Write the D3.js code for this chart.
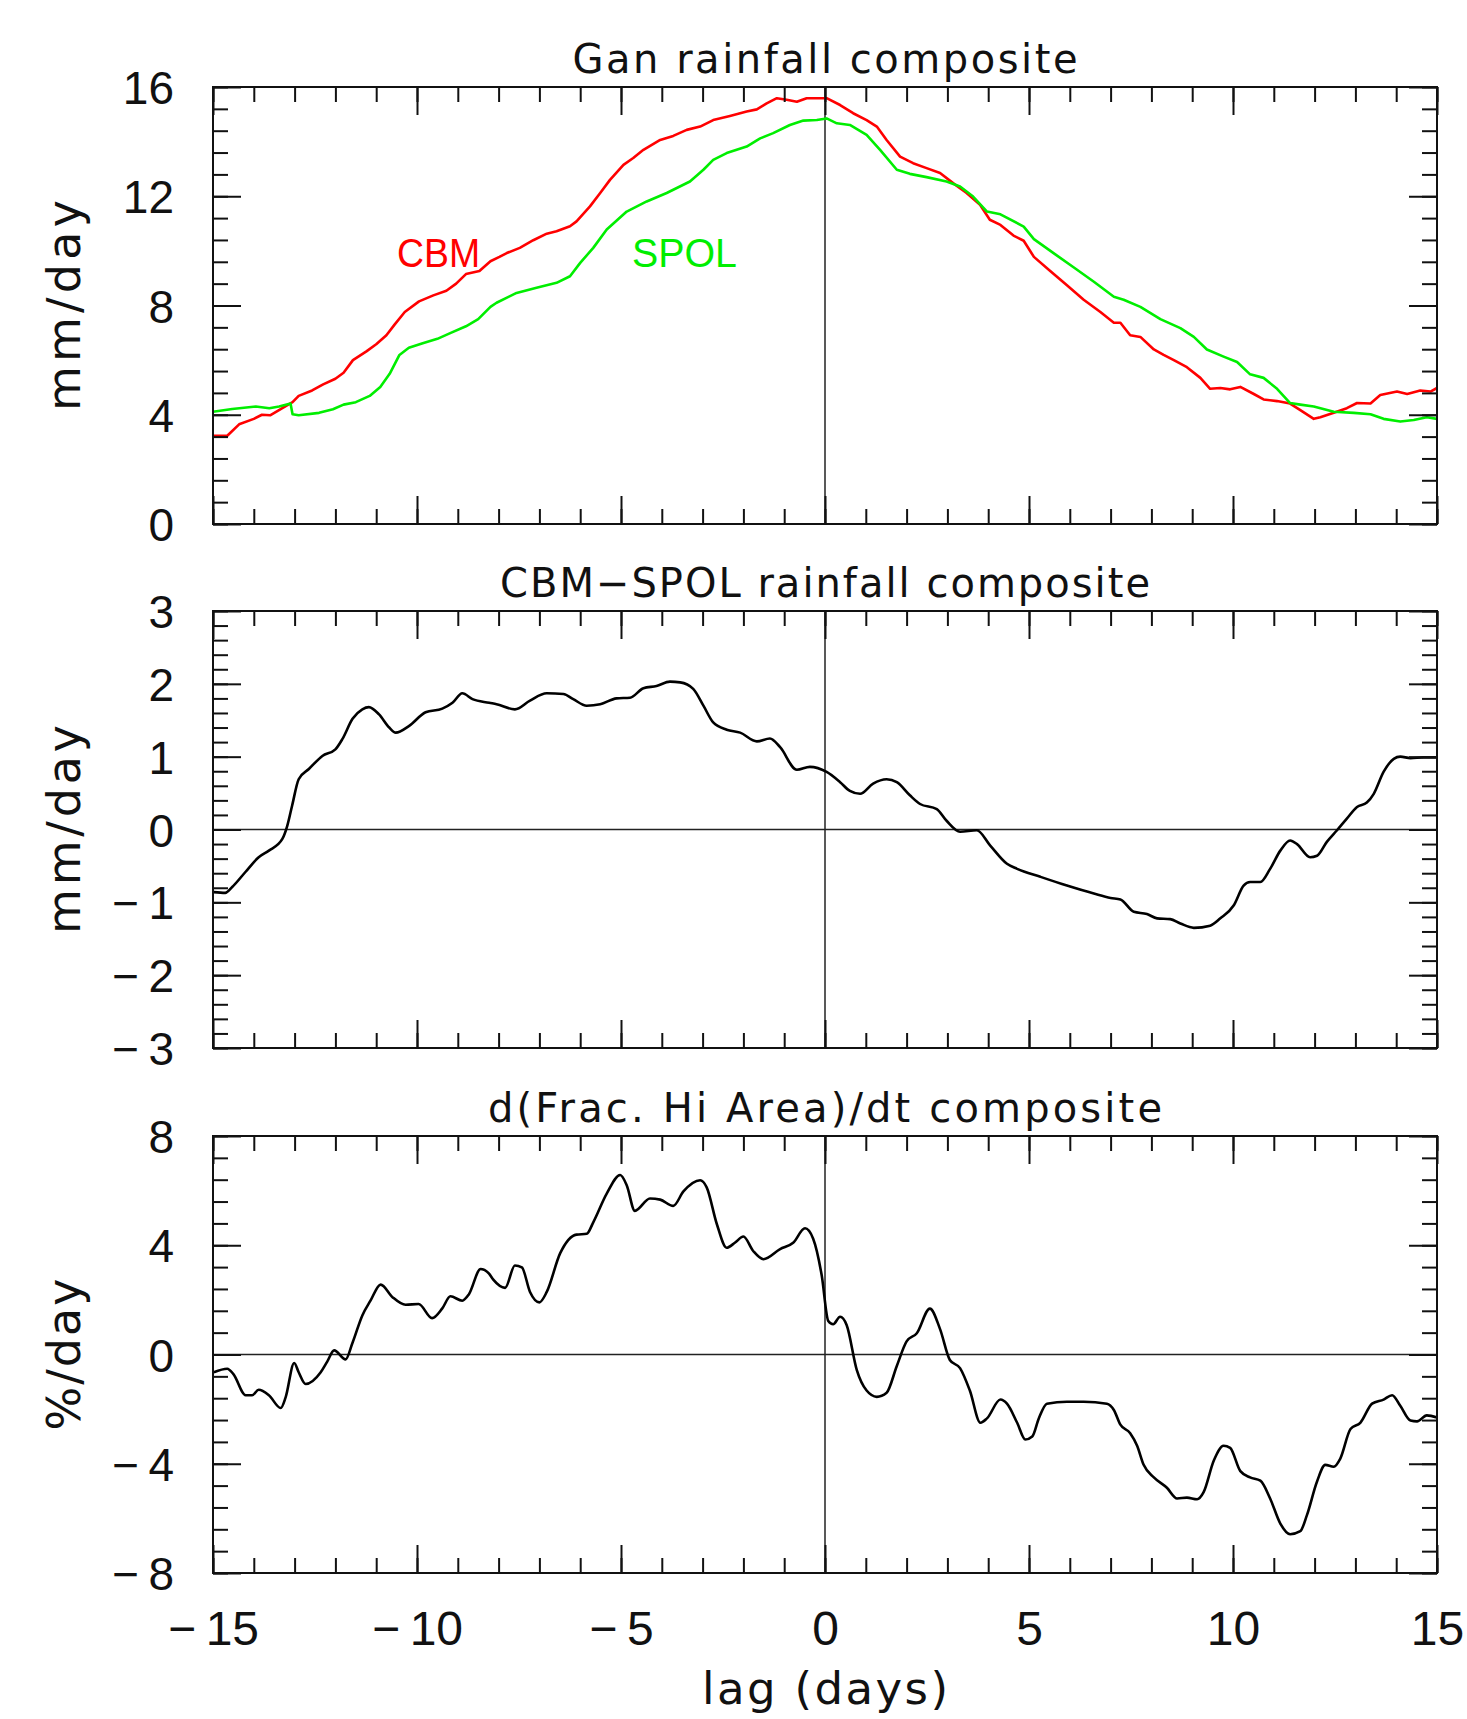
<!doctype html>
<html lang="en">
<head>
  <meta charset="utf-8">
  <title>Gan rainfall composite</title>
<style>
body { margin: 0; background: #fff; }
svg { display: block; }
</style>
</head>
<body>
<script src="https://cdn.jsdelivr.net/npm/d3@7"></script>
<script>

// lag tick labels (days)
var lagTicks = [-15, -10, -5, 0, 5, 10, 15];

// [lag (days), mm/day]
var cbm = [[-15,3.23],[-14.65,3.23],[-14.36,3.65],[-14,3.85],[-13.8,4.0],[-13.6,3.98],[-13.3,4.24],[-13.05,4.46],
  [-12.9,4.69],[-12.57,4.89],[-12.3,5.11],[-12,5.32],[-11.8,5.54],[-11.57,6.0],[-11.24,6.32],[-11,6.58],
  [-10.75,6.91],[-10.55,7.3],[-10.3,7.76],[-9.95,8.15],[-9.6,8.37],[-9.28,8.54],[-9.04,8.8],[-8.8,9.15],
  [-8.47,9.26],[-8.2,9.62],[-7.98,9.78],[-7.8,9.92],[-7.48,10.11],[-7.15,10.39],[-6.82,10.63],[-6.58,10.72],
  [-6.25,10.9],[-6.09,11.08],[-5.76,11.63],[-5.51,12.12],[-5.27,12.6],[-4.94,13.15],[-4.7,13.4],[-4.45,13.7],
  [-4.04,14.06],[-3.72,14.21],[-3.39,14.43],[-3.06,14.55],[-2.74,14.79],[-2.33,14.94],[-1.92,15.1],[-1.67,15.18],
  [-1.43,15.4],[-1.18,15.59],[-0.94,15.53],[-0.69,15.46],[-0.45,15.59],[-0.2,15.59],[0.04,15.59],[0.37,15.34],
  [0.69,15.04],[1.02,14.79],[1.27,14.55],[1.51,14.06],[1.84,13.45],[2.16,13.21],[2.49,13.03],[2.82,12.85],
  [3.14,12.48],[3.47,12.12],[3.8,11.69],[4.04,11.14],[4.3,10.95],[4.62,10.56],[4.87,10.37],[5.12,9.78],
  [5.52,9.26],[5.93,8.74],[6.34,8.21],[6.75,7.76],[7.08,7.37],[7.24,7.37],[7.48,6.91],[7.73,6.85],
  [8.06,6.39],[8.3,6.19],[8.55,6.0],[8.87,5.74],[9.2,5.35],[9.44,4.95],[9.69,4.98],[9.93,4.93],
  [10.18,5.02],[10.51,4.76],[10.75,4.56],[11.08,4.5],[11.4,4.41],[11.65,4.17],[11.98,3.85],[12.14,3.91],
  [12.47,4.07],[12.79,4.24],[13.04,4.43],[13.37,4.41],[13.61,4.72],[14.02,4.85],[14.27,4.76],[14.59,4.89],
  [14.84,4.85],[15,4.98]];

var spol = [[-15,4.11],[-14.53,4.21],[-13.95,4.3],[-13.62,4.24],[-13.38,4.3],[-13.1,4.41],[-13.05,4.02],[-12.9,3.98],
  [-12.4,4.07],[-12.06,4.2],[-11.8,4.37],[-11.5,4.46],[-11.16,4.69],[-10.9,5.02],[-10.67,5.5],[-10.43,6.19],
  [-10.2,6.45],[-9.86,6.62],[-9.5,6.78],[-9.2,6.98],[-8.8,7.24],[-8.5,7.5],[-8.2,7.95],[-8.05,8.1],
  [-7.56,8.46],[-7.07,8.65],[-6.58,8.83],[-6.25,9.07],[-6,9.56],[-5.68,10.11],[-5.35,10.78],[-4.86,11.44],
  [-4.37,11.81],[-3.88,12.12],[-3.31,12.54],[-2.98,12.97],[-2.74,13.33],[-2.41,13.58],[-1.92,13.82],[-1.59,14.12],
  [-1.27,14.31],[-0.86,14.61],[-0.53,14.77],[-0.2,14.79],[0.04,14.85],[0.29,14.67],[0.61,14.61],[1.02,14.25],
  [1.35,13.7],[1.76,12.97],[2.08,12.82],[2.49,12.7],[2.98,12.54],[3.31,12.36],[3.63,11.99],[3.97,11.44],
  [4.3,11.34],[4.87,10.89],[5.12,10.43],[5.61,9.91],[6.1,9.39],[6.59,8.87],[7.08,8.32],[7.32,8.21],
  [7.73,7.95],[8.22,7.5],[8.71,7.17],[9.04,6.85],[9.36,6.39],[9.77,6.13],[10.1,5.93],[10.42,5.48],
  [10.75,5.35],[11.08,4.95],[11.4,4.43],[11.65,4.37],[11.98,4.3],[12.47,4.11],[12.96,4.07],[13.37,4.02],
  [13.69,3.85],[14.1,3.75],[14.43,3.81],[14.75,3.91],[15,3.85]];

// [lag, mm/day] CBM minus SPOL
var diff = [[-14.98,-0.86],[-14.7,-0.87],[-14.53,-0.79],[-14.2,-0.58],[-13.88,-0.38],[-13.63,-0.29],[-13.3,-0.13],
  [-13.18,0.05],[-13.06,0.33],[-12.9,0.69],[-12.65,0.83],[-12.32,1.01],[-12,1.1],[-11.83,1.24],[-11.58,1.52],
  [-11.34,1.65],[-11.18,1.68],[-10.93,1.58],[-10.68,1.4],[-10.52,1.33],[-10.2,1.42],[-9.79,1.61],[-9.38,1.66],
  [-9.13,1.74],[-8.89,1.87],[-8.64,1.79],[-8.23,1.74],[-8.05,1.72],[-7.6,1.65],[-7.23,1.77],[-6.82,1.87],
  [-6.41,1.86],[-6.17,1.79],[-5.84,1.7],[-5.51,1.72],[-5.11,1.8],[-4.78,1.81],[-4.45,1.94],[-4.13,1.97],
  [-3.8,2.03],[-3.55,2.02],[-3.23,1.93],[-2.98,1.7],[-2.74,1.47],[-2.41,1.37],[-2.08,1.33],[-1.67,1.21],
  [-1.35,1.25],[-1.1,1.13],[-0.69,0.82],[-0.37,0.86],[0.04,0.79],[0.37,0.65],[0.61,0.53],[0.86,0.49],
  [1.18,0.63],[1.51,0.69],[1.76,0.65],[2.08,0.47],[2.33,0.35],[2.74,0.28],[2.98,0.12],[3.31,-0.03],
  [3.72,-0.01],[4.05,-0.22],[4.46,-0.47],[4.71,-0.54],[5.28,-0.65],[5.93,-0.77],[6.59,-0.88],[7,-0.94],
  [7.24,-0.96],[7.57,-1.13],[7.89,-1.16],[8.14,-1.22],[8.46,-1.23],[8.71,-1.29],[9.04,-1.35],[9.44,-1.32],
  [9.69,-1.22],[10.02,-1.04],[10.26,-0.77],[10.42,-0.72],[10.67,-0.72],[10.91,-0.54],[11.16,-0.29],[11.4,-0.15],
  [11.57,-0.2],[11.89,-0.38],[12.06,-0.36],[12.3,-0.17],[12.55,-0.01],[12.79,0.15],[13.04,0.31],[13.28,0.37],
  [13.45,0.49],[13.69,0.79],[13.94,0.97],[14.1,1.0],[14.35,0.98],[14.67,0.99],[15,0.99]];

// [lag, %/day] d(Frac. Hi Area)/dt
var dfrac = [[-14.98,-0.65],[-14.65,-0.52],[-14.5,-0.72],[-14.2,-1.49],[-14.04,-1.49],[-13.88,-1.29],[-13.63,-1.49],
  [-13.34,-1.96],[-13.22,-1.57],[-13.01,-0.31],[-12.9,-0.65],[-12.73,-1.08],[-12.36,-0.65],[-12.2,-0.26],[-12.03,0.15],
  [-11.75,-0.18],[-11.58,0.43],[-11.34,1.43],[-11.14,1.97],[-10.89,2.56],[-10.6,2.1],[-10.28,1.82],[-9.96,1.85],
  [-9.63,1.33],[-9.38,1.69],[-9.18,2.13],[-8.89,1.97],[-8.73,2.2],[-8.44,3.13],[-8.24,2.97],[-8.13,2.74],
  [-7.84,2.44],[-7.6,3.26],[-7.43,3.19],[-7.23,2.29],[-7,1.91],[-6.82,2.29],[-6.49,3.71],[-6.09,4.39],
  [-5.84,4.42],[-5.68,4.84],[-5.35,5.89],[-5.02,6.57],[-4.86,6.2],[-4.66,5.26],[-4.29,5.71],[-4.04,5.67],
  [-3.72,5.44],[-3.47,5.97],[-3.06,6.38],[-2.9,6.12],[-2.65,4.77],[-2.41,3.91],[-2.21,4.09],[-2,4.32],
  [-1.76,3.79],[-1.51,3.49],[-1.1,3.86],[-0.78,4.09],[-0.49,4.62],[-0.29,4.24],[-0.08,2.89],[0.08,1.23],
  [0.2,1.11],[0.37,1.38],[0.53,1.08],[0.78,-0.57],[1.02,-1.32],[1.27,-1.55],[1.51,-1.4],[1.76,-0.42],
  [2,0.48],[2.25,0.78],[2.57,1.68],[2.82,0.93],[3.06,-0.2],[3.31,-0.5],[3.55,-1.32],[3.81,-2.5],
  [3.97,-2.34],[4.3,-1.65],[4.46,-1.8],[4.71,-2.5],[4.91,-3.11],[5.08,-3.0],[5.24,-2.34],[5.44,-1.8],
  [5.93,-1.73],[6.34,-1.73],[6.91,-1.8],[7.08,-2.03],[7.24,-2.57],[7.48,-2.88],[7.65,-3.34],[7.81,-4.04],
  [8.06,-4.5],[8.38,-4.88],[8.63,-5.27],[8.87,-5.24],[9.12,-5.3],[9.28,-5.04],[9.53,-3.88],[9.77,-3.34],
  [9.93,-3.42],[10.18,-4.27],[10.42,-4.5],[10.67,-4.62],[10.91,-5.27],[11.16,-6.19],[11.4,-6.58],[11.65,-6.47],
  [11.81,-5.89],[12.06,-4.65],[12.26,-4.04],[12.47,-4.11],[12.63,-3.81],[12.88,-2.73],[13.12,-2.5],[13.41,-1.8],
  [13.69,-1.65],[13.9,-1.49],[14.1,-1.88],[14.35,-2.42],[14.51,-2.45],[14.75,-2.23],[15,-2.31]];

var W = 1467, H = 1719;
var svg = d3.select("body").append("svg")
	.attr("width", W)
	.attr("height", H);

var left = 213, right = 1437, ph = 437;
var numFont = "'Liberation Sans', Arial, sans-serif";
var txtFont = "'DejaVu Sans', sans-serif";

var x = d3.scaleLinear().domain([-15, 15]).range([left, right]);

// minus sign set a little apart from the digits, as in the original plot
function fmt(d) {
	return d < 0 ? "\u2212\u2009" + (-d) : String(d);
}

var panels = [
	{ top: 87, domain: [0, 16], major: [0, 4, 8, 12, 16], step: 0.8, zero: false,
	  title: "Gan rainfall composite", titleLen: 505, ylab: "mm/day", ylabLen: 211,
	  series: [{ data: cbm, color: "#ff0000", curve: d3.curveLinear },
	           { data: spol, color: "#00ee00", curve: d3.curveLinear }] },
	{ top: 611, domain: [-3, 3], major: [-3, -2, -1, 0, 1, 2, 3], step: 0.2, zero: true,
	  title: "CBM\u2212SPOL rainfall composite", titleLen: 650, ylab: "mm/day", ylabLen: 209,
	  series: [{ data: diff, color: "#000", curve: d3.curveMonotoneX }] },
	{ top: 1136, domain: [-8, 8], major: [-8, -4, 0, 4, 8], step: 0.8, zero: true,
	  title: "d(Frac. Hi Area)/dt composite", titleLen: 674, ylab: "%/day", ylabLen: 152,
	  series: [{ data: dfrac, color: "#000", curve: d3.curveMonotoneX }] }
];

var xMinor = d3.range(-15, 15.01, 1);

// draw inward tick marks only (no labels, no domain path)
function tickMarks(g, axis, tr) {
	g.append("g")
		.attr("transform", tr)
		.call(axis)
		.call(function (s) {
			s.select(".domain").remove();
			s.selectAll("text").remove();
			s.selectAll("line").attr("stroke", "#111").attr("stroke-width", 2);
		});
}

panels.forEach(function (p, i) {
	var bottom = p.top + ph;
	var y = d3.scaleLinear().domain(p.domain).range([bottom, p.top]);
	var yMinor = d3.range(p.domain[0], p.domain[1] + p.step / 2, p.step);
	var g = svg.append("g");

	// zero lines
	g.append("line")
		.attr("x1", x(0)).attr("x2", x(0))
		.attr("y1", p.top).attr("y2", bottom)
		.attr("stroke", "#222").attr("stroke-width", 1.5);
	if (p.zero) {
		g.append("line")
			.attr("x1", left).attr("x2", right)
			.attr("y1", y(0)).attr("y2", y(0))
			.attr("stroke", "#222").attr("stroke-width", 1.5);
	}

	// curves
	p.series.forEach(function (s) {
		g.append("path")
			.datum(s.data)
			.attr("fill", "none")
			.attr("stroke", s.color)
			.attr("stroke-width", 2.6)
			.attr("stroke-linejoin", "round")
			.attr("d", d3.line()
				.x(function (d) { return x(d[0]); })
				.y(function (d) { return y(d[1]); })
				.curve(s.curve));
	});

	// ticks on all four sides
	tickMarks(g, d3.axisBottom(x).tickValues(lagTicks).tickSize(-28), "translate(0," + bottom + ")");
	tickMarks(g, d3.axisBottom(x).tickValues(xMinor).tickSize(-15), "translate(0," + bottom + ")");
	tickMarks(g, d3.axisTop(x).tickValues(lagTicks).tickSize(-28), "translate(0," + p.top + ")");
	tickMarks(g, d3.axisTop(x).tickValues(xMinor).tickSize(-15), "translate(0," + p.top + ")");
	tickMarks(g, d3.axisLeft(y).tickValues(p.major).tickSize(-28), "translate(" + left + ",0)");
	tickMarks(g, d3.axisLeft(y).tickValues(yMinor).tickSize(-15), "translate(" + left + ",0)");
	tickMarks(g, d3.axisRight(y).tickValues(p.major).tickSize(-28), "translate(" + right + ",0)");
	tickMarks(g, d3.axisRight(y).tickValues(yMinor).tickSize(-15), "translate(" + right + ",0)");

	// frame
	g.append("rect")
		.attr("x", left).attr("y", p.top)
		.attr("width", right - left).attr("height", ph)
		.attr("fill", "none")
		.attr("stroke", "#111")
		.attr("stroke-width", 2);

	// y tick labels
	g.append("g")
		.attr("transform", "translate(" + left + ",0)")
		.call(d3.axisLeft(y).tickValues(p.major).tickSize(0).tickPadding(39).tickFormat(fmt))
		.call(function (s) {
			s.select(".domain").remove();
			s.attr("font-family", numFont).attr("font-size", 46);
			s.selectAll("text").attr("fill", "#111").attr("dy", "0.36em");
		});

	// title
	g.append("text")
		.attr("x", (left + right) / 2)
		.attr("y", p.top - 14)
		.attr("text-anchor", "middle")
		.attr("font-family", txtFont)
		.attr("font-size", 40)
		.attr("fill", "#111")
		.attr("textLength", p.titleLen)
		.attr("lengthAdjust", "spacing")
		.text(p.title);

	// y axis label
	g.append("text")
		.attr("transform", "translate(80," + (p.top + ph / 2) + ") rotate(-90)")
		.attr("text-anchor", "middle")
		.attr("font-family", txtFont)
		.attr("font-size", 46)
		.attr("fill", "#111")
		.attr("textLength", p.ylabLen)
		.attr("lengthAdjust", "spacing")
		.text(p.ylab);

	// x tick labels on the bottom panel
	if (i === panels.length - 1) {
		g.append("g")
			.attr("transform", "translate(0," + bottom + ")")
			.call(d3.axisBottom(x).tickValues(lagTicks).tickSize(0).tickFormat(fmt))
			.call(function (s) {
				s.select(".domain").remove();
				s.attr("font-family", numFont).attr("font-size", 48);
				s.selectAll("text").attr("fill", "#111").attr("y", 72).attr("dy", null);
			});

		g.append("text")
			.attr("x", (left + right) / 2)
			.attr("y", 1704)
			.attr("text-anchor", "middle")
			.attr("font-family", txtFont)
			.attr("font-size", 45)
			.attr("fill", "#111")
			.attr("textLength", 246)
			.attr("lengthAdjust", "spacing")
			.text("lag (days)");
	}
});

// series labels in the top panel
svg.append("text")
	.attr("x", 397).attr("y", 267)
	.attr("font-family", numFont).attr("font-size", 41)
	.attr("fill", "#ff0000")
	.attr("textLength", 83).attr("lengthAdjust", "spacingAndGlyphs")
	.text("CBM");

svg.append("text")
	.attr("x", 632).attr("y", 267)
	.attr("font-family", numFont).attr("font-size", 41)
	.attr("fill", "#00ee00")
	.attr("textLength", 105).attr("lengthAdjust", "spacingAndGlyphs")
	.text("SPOL");

</script>
</body>
</html>
